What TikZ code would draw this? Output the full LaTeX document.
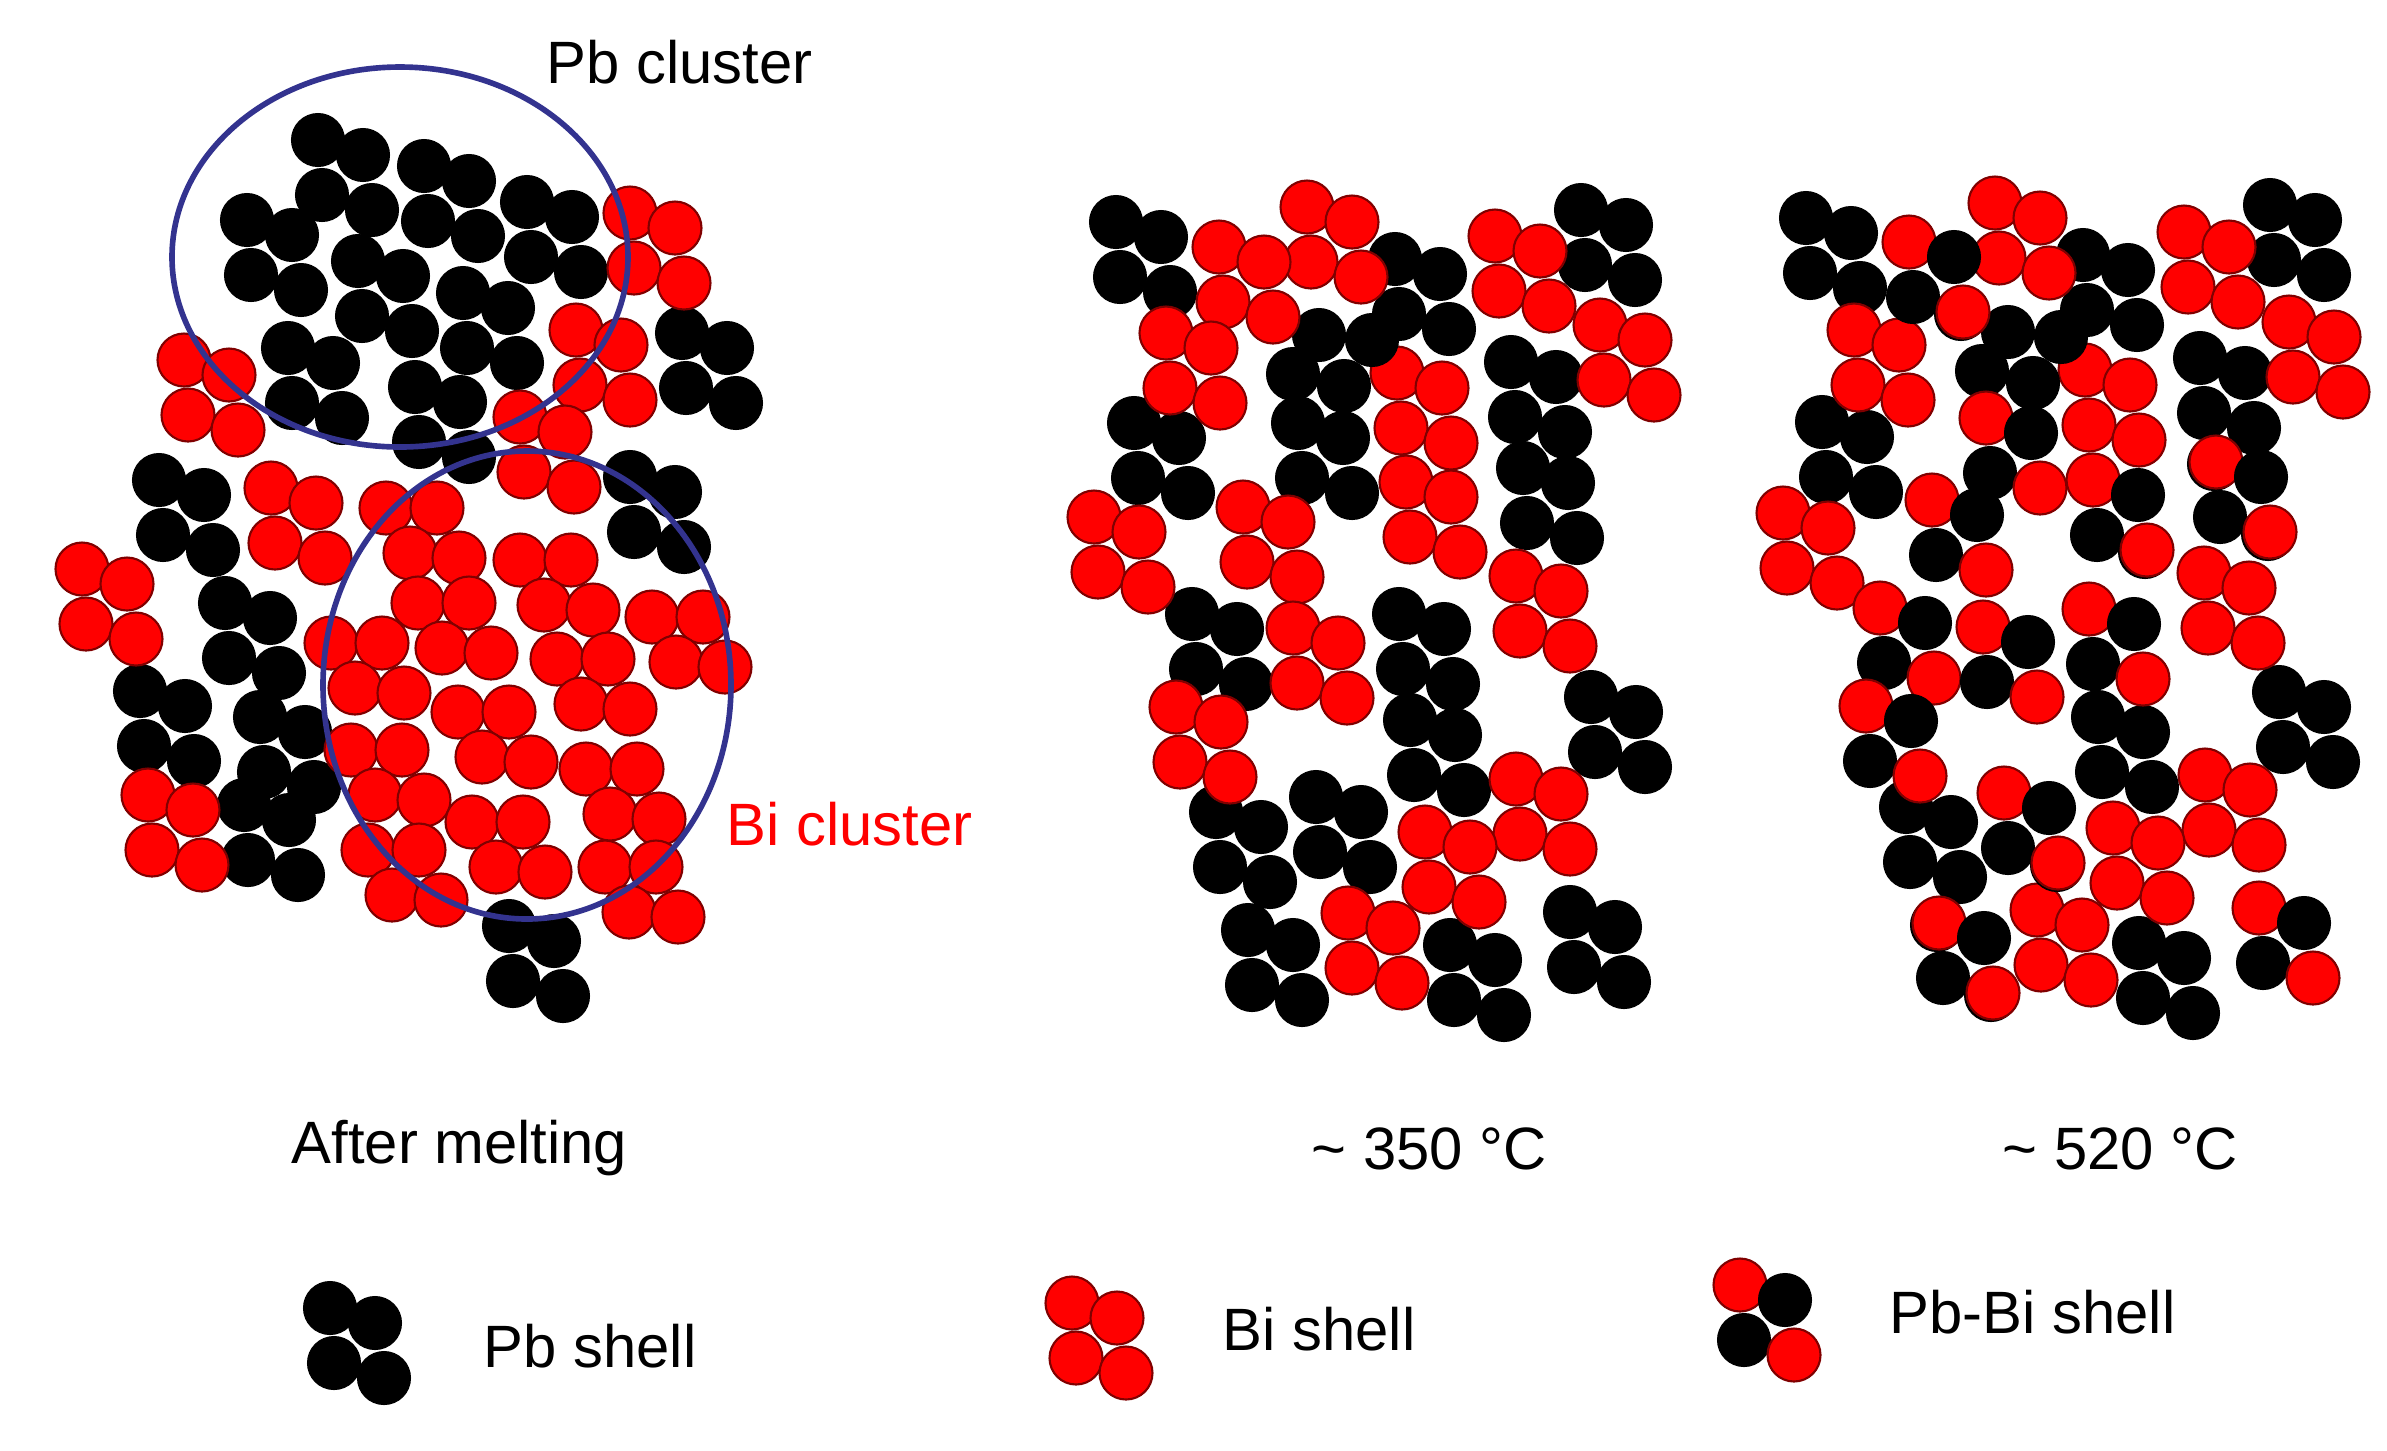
\documentclass[tikz,border=0pt]{standalone}
\usepackage{fontspec}
\setmainfont{Liberation Sans}
\newcommand{\atom}[3]{\draw[#3] (#1,#2) circle[radius=26.5];}
\newcommand{\shella}[6]{\atom{#1}{#2}{#3}\atom{#1+45}{#2+15}{#4}\atom{#1+4}{#2+55}{#5}\atom{#1+54}{#2+70}{#6}}
\newcommand{\shellb}[6]{\atom{#1}{#2}{#3}\atom{#1+51}{#2}{#4}\atom{#1+24}{#2+45}{#5}\atom{#1+73}{#2+50}{#6}}
\newcommand{\shellc}[6]{\atom{#1}{#2}{#3}\atom{#1+53}{#2+5}{#4}\atom{#1-26}{#2+39}{#5}\atom{#1+25}{#2+51}{#6}}

\begin{document}
\begin{tikzpicture}[x=0.01cm, y=-0.01cm]
      \tikzset{pb/.style={draw=black, fill=black, line width=0.3pt}, bi/.style={draw=red!50!black, fill=red, line width=0.6pt}, cluster/.style={draw=blue!45!black!80!white, line width=1.6pt}, caption/.style={anchor=base west, inner sep=0pt, font=\fontsize{17}{20}\selectfont}}
      \useasboundingbox (0,0) rectangle (2387,1450);
      % after melting
      \foreach \x/\y in {318/140, 424/166, 527/202, 247/220, 358/261, 463/293, 288/348, 415/387, 682/333, 630/477, 159/480, 225/603, 140/691, 260/717, 244/805, 509/926} {\shella{\x}{\y}{pb}{pb}{pb}{pb}}
      \foreach \x/\y in {630/213, 576/330, 184/360, 520/417, 271/488, 82/569, 148/795} {\shella{\x}{\y}{bi}{bi}{bi}{bi}}
      \foreach \x/\y in {386/508, 418/603, 520/560, 652/617, 331/643, 557/659, 458/712, 351/750, 586/769, 472/822, 368/850, 605/867} {\shellb{\x}{\y}{bi}{bi}{bi}{bi}}
      \draw[cluster] (400,257) ellipse[x radius=228, y radius=190];
      \draw[cluster] (527,685) ellipse[x radius=204, y radius=234];
      % 350 C
      \shella{1397}{373}{bi}{bi}{bi}{bi}
      \shellc{1319}{335}{pb}{pb}{pb}{pb}
      \foreach \x/\y in {1116/222, 1395/259, 1581/210, 1511/362, 1298/423, 1523/468, 1134/423, 1192/614, 1399/614, 1410/720, 1216/812, 1316/797, 1591/697, 1248/930, 1450/945, 1570/912} {\shella{\x}{\y}{pb}{pb}{pb}{pb}}
      \foreach \x/\y in {1307/207, 1219/247, 1166/333, 1406/482, 1495/236, 1600/325, 1243/507, 1094/517, 1516/576, 1293/628, 1176/707, 1516/779, 1425/832, 1348/913} {\shella{\x}{\y}{bi}{bi}{bi}{bi}}
      % 520 C
      \shella{2085}{370}{bi}{bi}{bi}{bi}
      \shellc{2008}{332}{pb}{pb}{pb}{pb}
      \foreach \x/\y in {1806/218, 2083/255, 2270/205, 2200/358, 1822/422, 2098/717, 1906/807, 2139/943, 2279/692} {\shella{\x}{\y}{pb}{pb}{pb}{pb}}
      \foreach \x/\y in {1995/203, 1854/330, 2184/232, 2289/322, 1783/513, 2204/573, 2205/775, 2113/828, 2037/910} {\shella{\x}{\y}{bi}{bi}{bi}{bi}}
      \foreach \x/\y in {1961/314, 2214/464, 2268/534, 2145/552, 1937/925, 1991/995, 2057/865} {\atom{\x}{\y}{pb}}
      \foreach \x/\y in {1909/242, 2216/462, 1986/418, 1932/500, 2093/480, 1880/608, 1983/627, 2089/609, 1866/706, 2004/793, 1939/923, 2259/908} {\shella{\x}{\y}{bi}{pb}{pb}{bi}}
      % legend
      \shella{330}{1308}{pb}{pb}{pb}{pb}
      \shella{1072}{1303}{bi}{bi}{bi}{bi}
      \shella{1740}{1285}{bi}{pb}{pb}{bi}
      \node[caption] (pbcluster) at (546,83) {Pb cluster};
      \node[caption, text=red] (bicluster) at (726,845) {Bi cluster};
      \node[caption] (melting) at (291,1163) {After melting};
      \node[caption] (low) at (1311,1169) {\char`\~{} 350 °C};
      \node[caption] (high) at (2002,1169) {\char`\~{} 520 °C};
      \node[caption] (pbshell) at (483,1367) {Pb shell};
      \node[caption] (bishell) at (1222,1350) {Bi shell};
      \node[caption] (pbbishell) at (1889,1333) {Pb-Bi shell};
    \end{tikzpicture}
\end{document}
